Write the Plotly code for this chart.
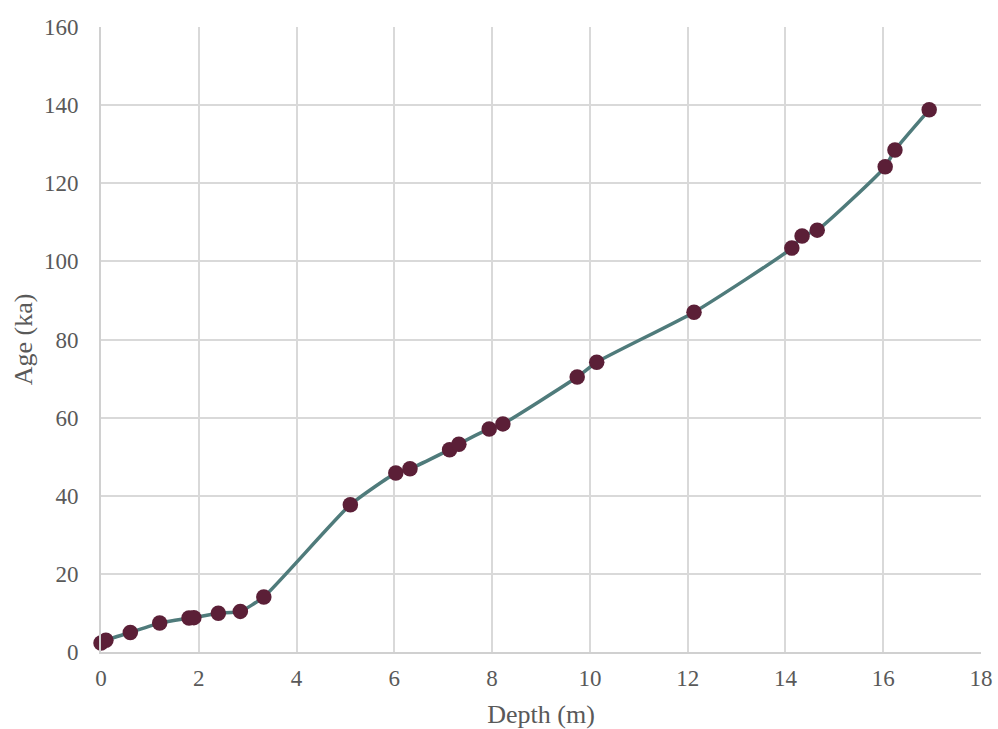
import plotly.graph_objects as go

depth_m = [0.0, 0.1, 0.6, 1.2, 1.8, 1.9, 2.4, 2.85, 3.33, 5.1, 6.03, 6.32, 7.13, 7.32,
           7.94, 8.22, 9.74, 10.14, 12.13, 14.13, 14.34, 14.65, 16.04, 16.24, 16.94]
age_ka = [2.3, 3.0, 5.0, 7.4, 8.7, 8.8, 9.9, 10.4, 14.1, 37.7, 45.8, 46.9, 51.8, 53.2,
          57.1, 58.4, 70.4, 74.2, 87.0, 103.4, 106.5, 108.0, 124.2, 128.5, 138.8]

x_ticks = list(range(0, 19, 2))
y_ticks = list(range(0, 161, 20))

font_family = "Liberation Serif, Times New Roman, serif"
grid_color = "#d9d9d9"
tick_color = "#595959"

fig = go.Figure()
fig.add_trace(go.Scatter(
    x=depth_m, y=age_ka, mode="lines+markers",
    line=dict(color="#4f7b7b", width=3.5, shape="spline", smoothing=0.5),
    marker=dict(color="#5b1f37", size=15.5),
    showlegend=False, cliponaxis=False,
))

fig.update_layout(
    width=998, height=729,
    margin=dict(l=101, r=17, t=27, b=77),
    paper_bgcolor="white", plot_bgcolor="white",
    font=dict(family=font_family, color=tick_color, size=23),
    xaxis=dict(
        range=[0, 18], tickvals=x_ticks, showgrid=True, gridcolor=grid_color, gridwidth=2,
        zeroline=False, showline=True, linecolor="#d0d0d0", linewidth=2,
        ticks="outside", ticklen=4, tickcolor="rgba(0,0,0,0)", automargin=False,
        title=dict(text="Depth (m)", font=dict(size=26, color=tick_color), standoff=16),
        tickfont=dict(size=23, color=tick_color),
    ),
    yaxis=dict(
        range=[0, 160], tickvals=y_ticks, showgrid=True, gridcolor=grid_color, gridwidth=2,
        zeroline=False, showline=True, linecolor="#d0d0d0", linewidth=2,
        ticks="outside", ticklen=16, tickcolor="rgba(0,0,0,0)", automargin=False,
        title=dict(text="Age (ka)", font=dict(size=26, color=tick_color), standoff=4),
        tickfont=dict(size=23, color=tick_color),
    ),
)

fig.write_html("out.html")
